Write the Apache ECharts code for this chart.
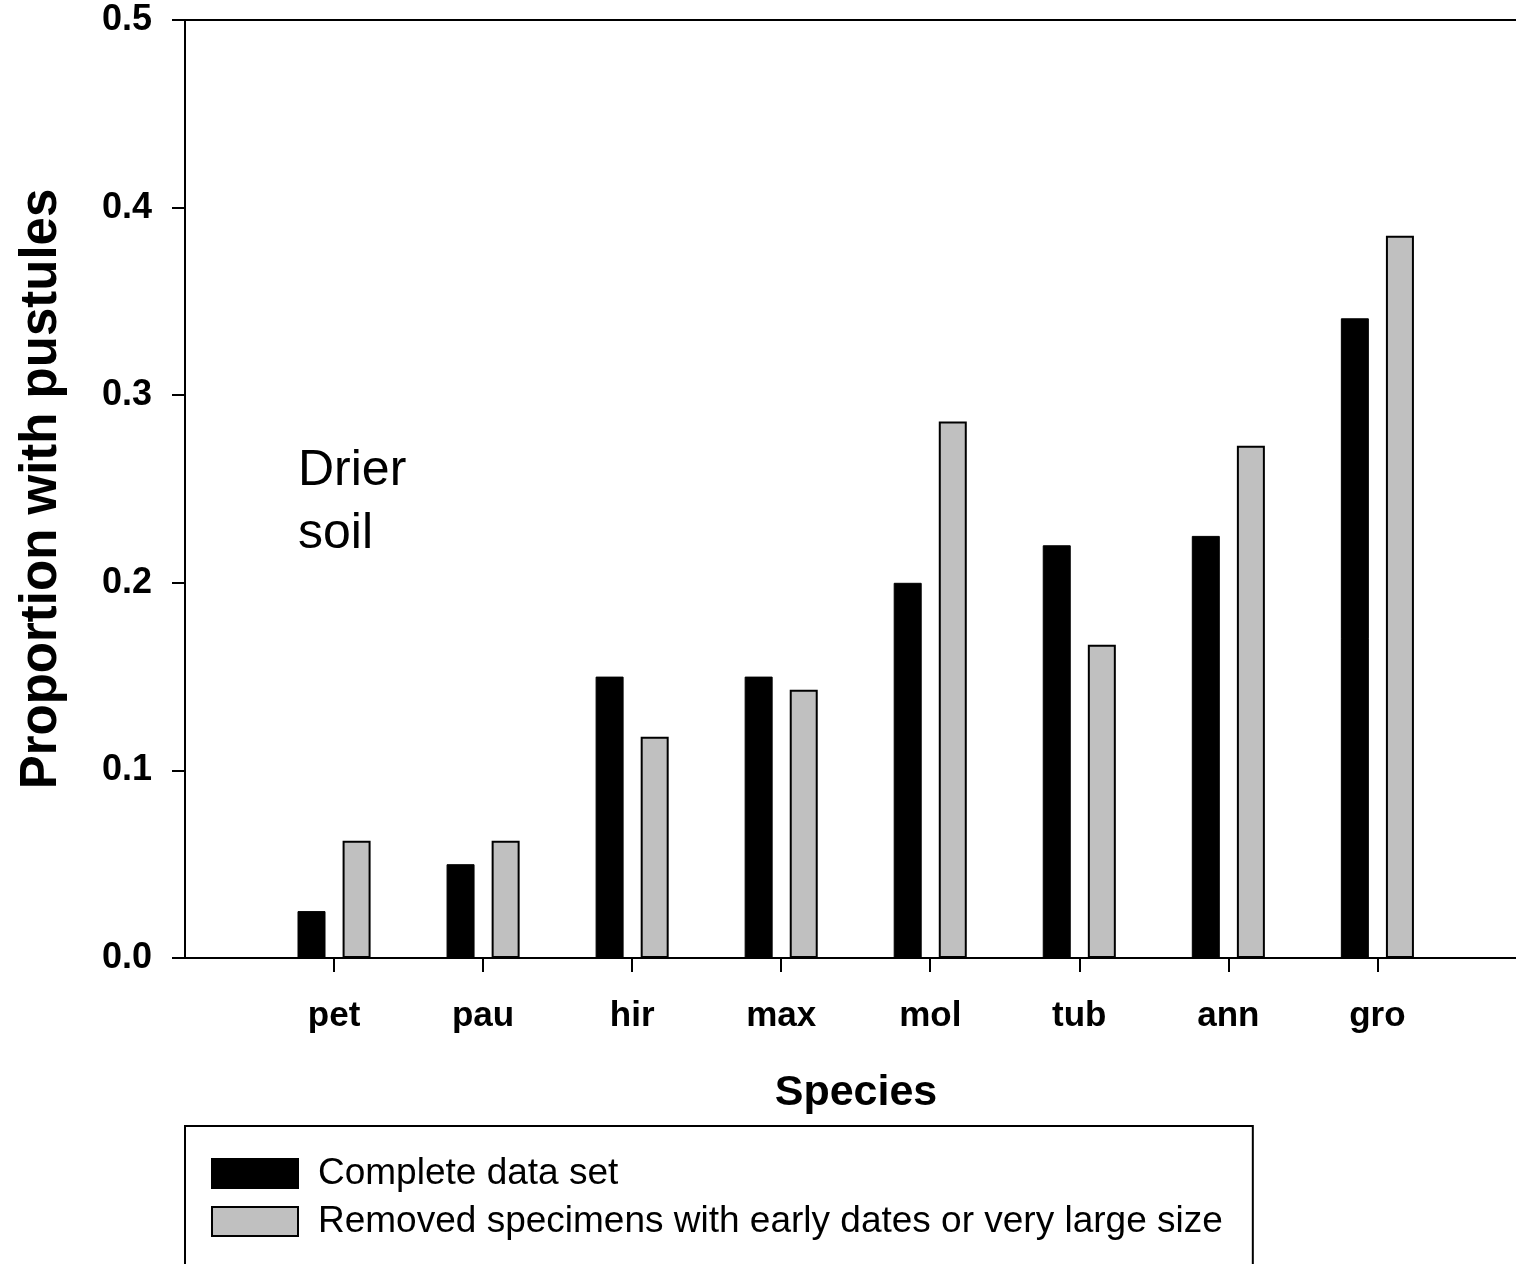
<!DOCTYPE html>
<html>
<head>
<meta charset="utf-8">
<script src="https://cdn.jsdelivr.net/npm/echarts@6/dist/echarts.min.js"></script>
<style>
html,body{margin:0;padding:0;background:#fff;}
#chart{width:1516px;height:1264px;}
</style>
</head>
<body>
<div id="chart"></div>
<script>
const categories = ['pet', 'pau', 'hir', 'max', 'mol', 'tub', 'ann', 'gro'];
const completeData = [0.025, 0.05, 0.15, 0.15, 0.2, 0.22, 0.225, 0.341];
const removedData = [0.0625, 0.0625, 0.118, 0.143, 0.286, 0.167, 0.273, 0.385];
const yTicks = [0, 0.1, 0.2, 0.3, 0.4, 0.5];
const seriesNames = ['Complete data set', 'Removed specimens with early dates or very large size'];

const FONT = '"Liberation Sans", Arial, Helvetica, sans-serif';
const positions = categories.map((c, i) => i + 1);
const X_MAX = 8.93;

const chart = echarts.init(document.getElementById('chart'), null, {renderer: 'canvas'});
chart.setOption({
  backgroundColor: '#ffffff',
  animation: false,
  textStyle: {fontFamily: FONT},
  title: {
    text: 'Drier\nsoil',
    left: 298,
    top: 440,
    padding: 0,
    textStyle: {fontFamily: FONT, fontSize: 50, fontWeight: 'normal', lineHeight: 63, color: '#000'}
  },
  grid: {
    left: 185, top: 20, right: 0, bottom: 306,
    show: false
  },
  legend: {
    orient: 'vertical',
    left: 185, top: 1126,
    height: 200,
    itemWidth: 86, itemHeight: 29, itemGap: 11,
    padding: [29, 30, 45, 26],
    borderColor: '#000', borderWidth: 2,
    icon: 'rect',
    data: seriesNames,
    textStyle: {fontFamily: FONT, fontSize: 37, color: '#000', padding: [0, 0, 0, 15]}
  },
  xAxis: [
    {
      type: 'value',
      min: 0, max: X_MAX,
      name: 'Species',
      nameLocation: 'middle',
      nameGap: 114,
      nameTextStyle: {fontFamily: FONT, fontSize: 43, fontWeight: 'bold', color: '#000', padding: [0, 0, 0, 11]},
      axisLine: {show: true, lineStyle: {color: '#000', width: 2}},
      axisTick: {show: true, length: 14, lineStyle: {color: '#000', width: 2}, customValues: positions},
      axisLabel: {
        customValues: positions,
        margin: 41,
        fontFamily: FONT, fontSize: 35, fontWeight: 'bold', color: '#000',
        formatter: v => categories[Math.round(v) - 1] || ''
      },
      splitLine: {show: false}
    },
    {
      type: 'value',
      position: 'top',
      min: 0, max: X_MAX,
      axisLine: {show: true, onZero: false, lineStyle: {color: '#000', width: 2}},
      axisTick: {show: false},
      axisLabel: {show: false},
      splitLine: {show: false}
    }
  ],
  yAxis: {
    type: 'value',
    min: 0, max: 0.5, interval: 0.1,
    name: 'Proportion with pustules',
    nameLocation: 'middle',
    nameGap: 118,
    nameTextStyle: {fontFamily: FONT, fontSize: 51, fontWeight: 'bold', color: '#000'},
    axisLine: {show: true, lineStyle: {color: '#000', width: 2}},
    axisTick: {show: true, length: 13, lineStyle: {color: '#000', width: 2}, customValues: yTicks},
    axisLabel: {
      customValues: yTicks,
      margin: 33,
      fontFamily: FONT, fontSize: 36, fontWeight: 'bold', color: '#000',
      formatter: v => v.toFixed(1)
    },
    splitLine: {show: false}
  },
  series: [
    {
      name: seriesNames[0],
      type: 'bar',
      xAxisIndex: 0,
      barWidth: 28,
      barGap: '61%',
      itemStyle: {color: '#000000', borderColor: '#000', borderWidth: 1},
      data: categories.map((c, i) => [positions[i], completeData[i]])
    },
    {
      name: seriesNames[1],
      type: 'bar',
      xAxisIndex: 0,
      barWidth: 28,
      barGap: '61%',
      itemStyle: {color: '#c0c0c0', borderColor: '#000', borderWidth: 2},
      data: categories.map((c, i) => [positions[i], removedData[i]])
    }
  ]
});
</script>
</body>
</html>
